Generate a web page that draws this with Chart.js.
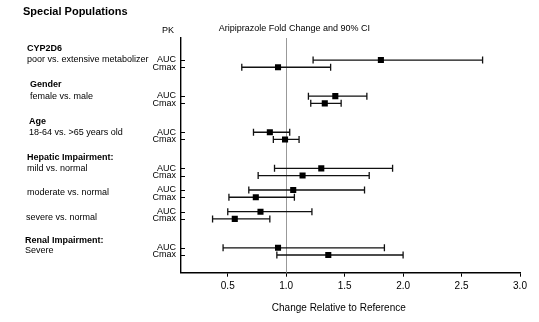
<!DOCTYPE html>
<html>
<head>
<meta charset="utf-8">
<title>Special Populations</title>
<script src="https://cdn.jsdelivr.net/npm/chart.js@4/dist/chart.umd.min.js"></script>
<style>
  body { margin: 0; background: #fff; }
  #wrap { width: 539px; height: 322px; }
</style>
</head>
<body>
<div id="wrap"><canvas id="myChart" width="539" height="322"></canvas></div>
<script>
// subgroup headings and comparisons, top to bottom
var groups = ["CYP2D6", "Gender", "Age", "Hepatic Impairment:", "", "", "Renal Impairment:"];
var comparisons = [
  "poor vs. extensive metabolizer",
  "female vs. male",
  "18-64 vs. >65 years old",
  "mild vs. normal",
  "moderate vs. normal",
  "severe vs. normal",
  "Severe",
];
var pkNames = ["AUC", "Cmax"];

// fold change with 90% CI
var aucRatio = [1.81, 1.42, 0.86, 1.30, 1.06, 0.78, 0.93];
var aucLow = [1.23, 1.19, 0.72, 0.90, 0.68, 0.50, 0.46];
var aucHigh = [2.68, 1.69, 1.03, 1.91, 1.67, 1.22, 1.84];

var cmaxRatio = [0.93, 1.33, 0.99, 1.14, 0.74, 0.56, 1.36];
var cmaxLow = [0.62, 1.21, 0.89, 0.76, 0.51, 0.37, 0.92];
var cmaxHigh = [1.38, 1.47, 1.11, 1.71, 1.07, 0.86, 2.0];

var xTicks = [0.5, 1.0, 1.5, 2.0, 2.5, 3.0];

// row slot of each AUC line on the y scale (Cmax sits one below)
var slot = [0, 5, 10, 15, 18, 21, 26];
// text nudges per group (px)
var labelX = [27, 30, 29, 27, 27, 26, 25];
var headDy = [-9, -8.7, -8.3, -8.5, 0, 0, -5];
var descDy = [2.3, 2.7, 3, 3, 4.6, 8.7, 5.7];

var FONT = "'Liberation Sans', Arial, sans-serif";

var series = [
  { est: aucRatio, lo: aucLow, hi: aucHigh, off: 0 },
  { est: cmaxRatio, lo: cmaxLow, hi: cmaxHigh, off: 1 },
];

function points(s) {
  return s.est.map(function (v, i) {
    return { x: v, y: slot[i] + s.off };
  });
}

var forestBits = {
  id: "forestBits",
  beforeDatasetsDraw: function (chart) {
    var ctx = chart.ctx;
    var a = chart.chartArea;
    var x = chart.scales.x;
    var y = chart.scales.y;
    ctx.save();

    // no-change reference line
    var x1 = Math.round(x.getPixelForValue(1)) + 0.5;
    ctx.strokeStyle = "#999";
    ctx.lineWidth = 1;
    ctx.beginPath();
    ctx.moveTo(x1, a.top);
    ctx.lineTo(x1, a.bottom);
    ctx.stroke();

    // CI whiskers with end caps
    ctx.strokeStyle = "#111";
    ctx.lineWidth = 1.3;
    series.forEach(function (s) {
      s.lo.forEach(function (lo, i) {
        var yy = y.getPixelForValue(slot[i] + s.off);
        var xl = x.getPixelForValue(lo);
        var xh = x.getPixelForValue(s.hi[i]);
        ctx.beginPath();
        ctx.moveTo(xl, yy);
        ctx.lineTo(xh, yy);
        ctx.moveTo(xl, yy - 3.5);
        ctx.lineTo(xl, yy + 3.5);
        ctx.moveTo(xh, yy - 3.5);
        ctx.lineTo(xh, yy + 3.5);
        ctx.stroke();
      });
    });

    // small inward ticks on the y axis
    ctx.strokeStyle = "#000";
    ctx.lineWidth = 1;
    slot.forEach(function (sl) {
      [0, 1].forEach(function (off) {
        var yy = Math.round(y.getPixelForValue(sl + off)) + 0.5;
        ctx.beginPath();
        ctx.moveTo(a.left, yy);
        ctx.lineTo(a.left + 4, yy);
        ctx.stroke();
      });
    });
    ctx.restore();
  },
  afterDraw: function (chart) {
    var ctx = chart.ctx;
    var a = chart.chartArea;
    var x = chart.scales.x;
    var y = chart.scales.y;
    ctx.save();
    ctx.fillStyle = "#000";
    ctx.textBaseline = "alphabetic";

    ctx.font = "bold 11px " + FONT;
    ctx.textAlign = "left";
    ctx.fillText("Special Populations", 23, 14.7);

    ctx.font = "9px " + FONT;
    ctx.textAlign = "right";
    ctx.fillText("PK", a.left - 7, 32.7);
    ctx.textAlign = "center";
    ctx.fillText("Aripiprazole Fold Change and 90% CI", x.getPixelForValue(1.07), 30.7);

    // x axis title sits left of the plot centre
    ctx.font = "10px " + FONT;
    ctx.fillText("Change Relative to Reference", x.getPixelForValue(1.45), 310.5);

    groups.forEach(function (g, i) {
      var yy = y.getPixelForValue(slot[i]);
      ctx.textAlign = "left";
      if (g) {
        ctx.font = "bold 9px " + FONT;
        ctx.fillText(g, labelX[i], yy + headDy[i]);
      }
      ctx.font = "9px " + FONT;
      ctx.fillText(comparisons[i], labelX[i], yy + descDy[i]);

      ctx.textAlign = "right";
      pkNames.forEach(function (pk, off) {
        ctx.fillText(pk, a.left - 5, y.getPixelForValue(slot[i] + off) + 2.3);
      });
    });
    ctx.restore();
  },
};

new Chart("myChart", {
  type: "scatter",
  data: {
    datasets: series.map(function (s, k) {
      return {
        label: pkNames[k],
        data: points(s),
        pointStyle: "rect",
        pointRadius: 4.3,
        pointHoverRadius: 4.3,
        backgroundColor: "#000",
        borderColor: "#000",
        borderWidth: 0,
      };
    }),
  },
  options: {
    responsive: false,
    animation: false,
    layout: {
      padding: { top: 38, right: 19, bottom: 0, left: 0 },
    },
    plugins: {
      legend: { display: false },
      tooltip: { enabled: false },
    },
    scales: {
      x: {
        type: "linear",
        min: 0.1,
        max: 3.0,
        afterBuildTicks: function (scale) {
          scale.ticks = xTicks.map(function (v) {
            return { value: v };
          });
        },
        afterFit: function (scale) {
          scale.height = 49.3;
        },
        border: { display: true, color: "#000", width: 1.4 },
        grid: {
          display: true,
          drawOnChartArea: false,
          drawTicks: true,
          tickLength: 4,
          color: "#000",
        },
        ticks: {
          color: "#000",
          padding: 4,
          maxRotation: 0,
          font: { family: FONT, size: 10 },
          callback: function (v) {
            return Number(v).toFixed(1);
          },
        },
      },
      y: {
        type: "linear",
        reverse: true,
        min: -3.05,
        max: 29.45,
        afterFit: function (scale) {
          scale.width = 181;
        },
        border: { display: true, color: "#000", width: 1.4 },
        grid: { display: false },
        ticks: { display: false },
      },
    },
  },
  plugins: [forestBits],
});
</script>
</body>
</html>
